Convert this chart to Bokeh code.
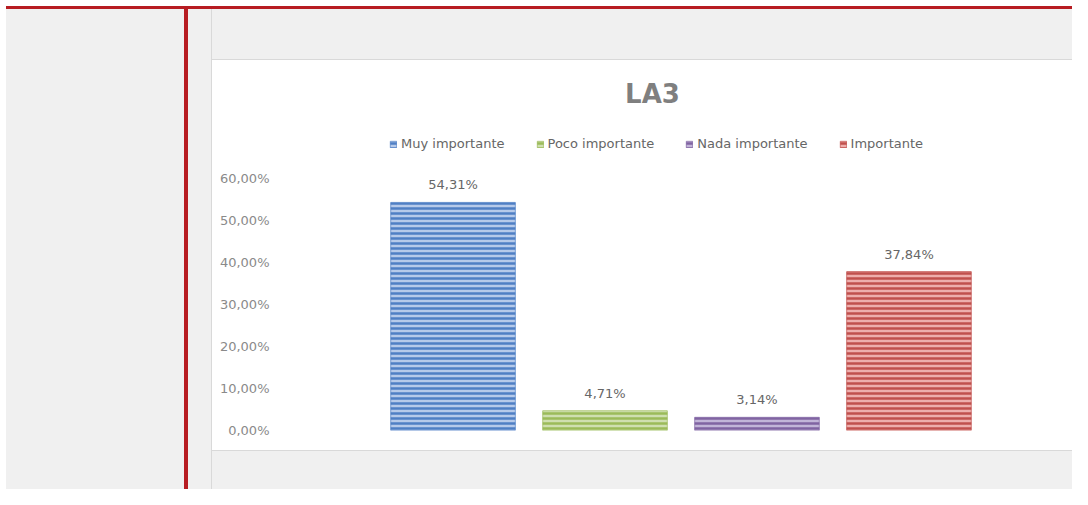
from bokeh.plotting import figure
from bokeh.models import (ColumnDataSource, Range1d, FixedTicker, CustomJSTickFormatter,
                          LabelSet, Label, Div, FactorRange, Legend, LegendItem)
from bokeh.layouts import column, row
from bokeh.embed import file_html
from bokeh.resources import INLINE
from bokeh.core.properties import value

# ---- data ----
title = "LA3"
categories = ["Muy importante", "Poco importante", "Nada importante", "Importante"]
values = [54.31, 4.71, 3.14, 37.84]
y_ticks = [0, 10, 20, 30, 40, 50, 60]
light_colors = ["#b6caea", "#cfdfb0", "#c2b5d8", "#eeaeac"]
dark_colors = ["#4f7fc4", "#9bbb59", "#8064a2", "#c0504d"]

labels = [f"{v:.2f}".replace(".", ",") + "%" for v in values]
src = ColumnDataSource(dict(cat=categories, val=values, lbl=labels,
                            light=light_colors, dark=dark_colors))

GREY = "#f0f0f0"
RED = "#b71c22"
BORDER = "#d9d9d9"
FONT = "DejaVu Sans"

# frame spans the whole white box height; room above 60% holds title and legend
p = figure(width=860, height=390, output_backend="svg", toolbar_location=None,
           x_range=FactorRange(factors=categories, range_padding=0.288,
                               range_padding_units="percent"),
           y_range=Range1d(0, 88.1),
           min_border_left=77, min_border_right=0, min_border_top=0, min_border_bottom=20)
p.background_fill_color = "white"
p.border_fill_color = "white"
p.outline_line_color = None
p.xgrid.visible = False
p.ygrid.visible = False
p.xaxis.visible = False

p.yaxis.ticker = FixedTicker(ticks=y_ticks)
p.yaxis.formatter = CustomJSTickFormatter(code="return tick.toFixed(2).replace('.', ',') + '%';")
p.yaxis.axis_line_color = None
p.yaxis.major_tick_line_color = None
p.yaxis.minor_tick_line_color = None
p.yaxis.major_label_standoff = 14
p.yaxis.major_label_text_font = FONT
p.yaxis.major_label_text_font_size = "13px"
p.yaxis.major_label_text_color = "#8a8a8a"

bars = p.vbar(x="cat", top="val", width=0.82, source=src,
              fill_color="light", line_color="dark", line_alpha=0.7,
              hatch_pattern="horizontal_line", hatch_color="dark",
              hatch_scale=5, hatch_weight=2.5)

p.add_layout(LabelSet(x="cat", y="val", text="lbl", source=src, y_offset=10,
                      text_align="center", text_baseline="bottom",
                      text_font=value(FONT), text_font_size="13px", text_color="#666666"))

# title and legend positions in screen px from the frame's bottom-left corner (frame left at x=289)
p.add_layout(Label(x=363, y=337, x_units="screen", y_units="screen", text=title,
                   text_align="center", text_baseline="middle",
                   text_font=FONT, text_font_style="bold",
                   text_font_size="26px", text_color="#7f7f7f"))

items = [LegendItem(label=c, renderers=[bars], index=i) for i, c in enumerate(categories)]
lg = Legend(items=items, location=(100, 279), orientation="horizontal",
            background_fill_alpha=0, border_line_color=None, padding=0, margin=0,
            spacing=31, label_standoff=4, glyph_width=8, glyph_height=8,
            label_text_font=FONT, label_text_font_size="13px", label_text_color="#666666")
p.add_layout(lg)

left_pad = Div(text="", width=6, height=489, margin=0, styles={"background-color": "white"})
top_bar = Div(text="", width=1066, height=9, margin=0,
              styles={"background": f"linear-gradient(to bottom, white 6px, {RED} 6px)"})
left = Div(text="", width=206, height=480, margin=0,
           styles={"background": f"linear-gradient(to right, {GREY} 178px, {RED} 178px, {RED} 182px, {GREY} 182px, {GREY} 205px, {BORDER} 205px)"})
above = Div(text="", width=860, height=51, margin=0,
            styles={"background": f"linear-gradient(to bottom, {GREY} 50px, {BORDER} 50px)"})
below = Div(text="", width=860, height=39, margin=0,
            styles={"background": f"linear-gradient(to bottom, {BORDER} 1px, {GREY} 1px)"})

root = row(left_pad,
           column(top_bar, row(left, column(above, p, below, spacing=0), spacing=0), spacing=0),
           spacing=0)

open("out.html", "w").write(file_html(root, INLINE))
